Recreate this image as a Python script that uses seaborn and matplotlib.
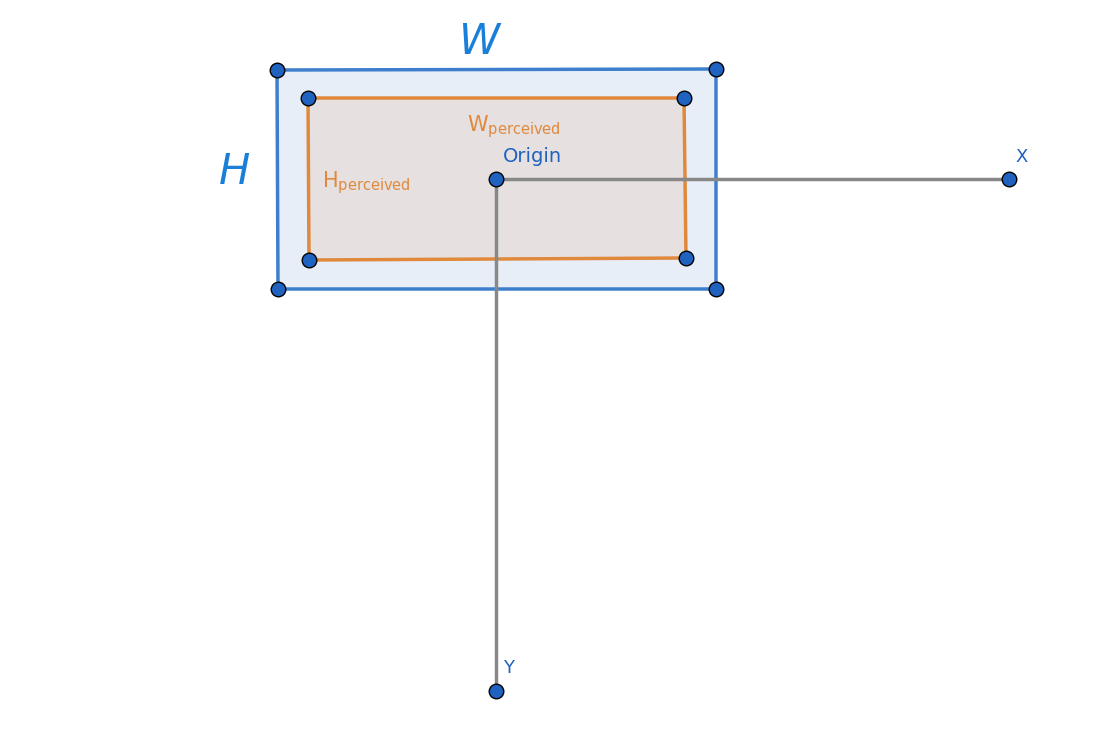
import numpy as np
import matplotlib
matplotlib.use("Agg")
import matplotlib.pyplot as plt
import seaborn as sns
import pandas as pd

# frame corners (picture pixel coords)
outer_x = [277, 716, 716, 278]
outer_y = [70, 69, 289, 289]
inner_x = [308, 684, 686, 309]
inner_y = [98, 98, 258, 260]
origin = (496, 179)
x_end = (1009, 179)
y_end = (496, 691)

blue = "#3d7fcc"
dot = "#1f62c0"
orange = "#e0893d"
gray = "#888888"

sns.set_theme(style="white")
fig = plt.figure(figsize=(11.02, 7.38), dpi=100)
ax = fig.add_axes([0, 0, 1, 1])
ax.set_xlim(0, 1102)
ax.set_ylim(738, 0)
ax.axis("off")

ax.fill(outer_x, outer_y, color="#e8eef8", zorder=1)
ax.plot(outer_x + outer_x[:1], outer_y + outer_y[:1], color=blue, lw=2.5, zorder=2)
ax.fill(inner_x, inner_y, color="#e6e1e0", zorder=3)
ax.plot(inner_x + inner_x[:1], inner_y + inner_y[:1], color=orange, lw=2.5, zorder=4)

ax.plot([origin[0], x_end[0]], [origin[1], x_end[1]], color=gray, lw=2.5, zorder=5)
ax.plot([origin[0], y_end[0]], [origin[1], y_end[1]], color=gray, lw=2.5, zorder=5)

pts = pd.DataFrame({
    "x": outer_x + inner_x + [origin[0], x_end[0], y_end[0]],
    "y": outer_y + inner_y + [origin[1], x_end[1], y_end[1]],
})
sns.scatterplot(data=pts, x="x", y="y", ax=ax, s=110, color=dot,
                edgecolor="black", linewidth=1, zorder=6)
ax.set_xlim(0, 1102)
ax.set_ylim(738, 0)

ax.text(480, 42, "W", color="#1a7fd8", fontsize=30, ha="center", va="center",
        style="italic", fontfamily="DejaVu Sans")
ax.text(235, 172, "H", color="#1a7fd8", fontsize=30, ha="center", va="center",
        style="italic")
ax.text(467, 127, r"W$_{\mathregular{perceived}}$", color=orange, fontsize=15, va="center")
ax.text(322, 183, r"H$_{\mathregular{perceived}}$", color=orange, fontsize=15, va="center")
ax.text(503, 157, "Origin", color=dot, fontsize=14, va="center")
ax.text(1015, 157, "X", color=dot, fontsize=13, va="center")
ax.text(503, 668, "Y", color=dot, fontsize=13, va="center")

fig.savefig("out.png", dpi=100)
